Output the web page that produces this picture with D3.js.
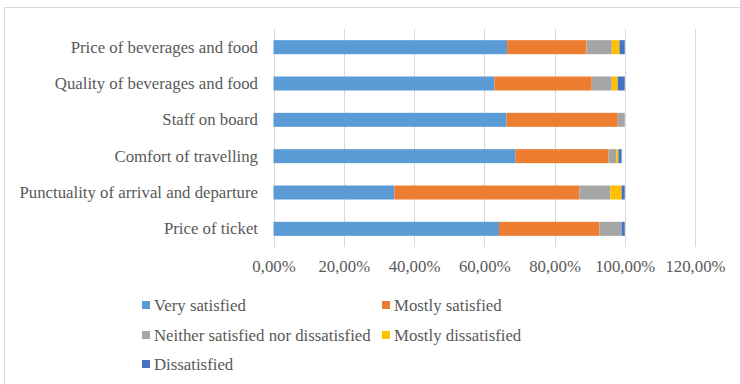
<!DOCTYPE html>
<html><head><meta charset="utf-8">
<script src="https://cdn.jsdelivr.net/npm/d3@7"></script>
<style>html,body{margin:0;padding:0;background:#fff;}svg{display:block;}
svg text{font-family:"Liberation Serif","Times New Roman",Times,serif;fill:#595959;}</style>
</head><body>
<svg id="c" width="740" height="384"></svg>
<script>
const categories = ["Price of beverages and food","Quality of beverages and food","Staff on board","Comfort of travelling","Punctuality of arrival and departure","Price of ticket"];
const seriesNames = ["Very satisfied","Mostly satisfied","Neither satisfied nor dissatisfied","Mostly dissatisfied","Dissatisfied"];
const verySatisfied      = [66.5, 62.9, 66.3, 68.9, 34.4, 64.2];
const mostlySatisfied    = [22.6, 27.7, 31.7, 26.5, 52.7, 28.6];
const neither            = [7.2, 5.7, 2.0, 2.2, 8.8, 6.3];
const mostlyDissatisfied = [2.2, 1.7, 0.0, 0.6, 3.2, 0.0];
const dissatisfied       = [1.5, 2.0, 0.0, 0.9, 0.9, 0.9];
const tickValues = [0, 20, 40, 60, 80, 100, 120];
const colors = ["#5B9BD5","#ED7D31","#A5A5A5","#FFC000","#4472C4"];

const seriesData = [verySatisfied, mostlySatisfied, neither, mostlyDissatisfied, dissatisfied];
const rows = categories.map((c,i)=>{const o={cat:c}; seriesNames.forEach((s,j)=>o[s]=seriesData[j][i]); return o;});
const stack = d3.stack().keys(seriesNames)(rows);

const svg = d3.select("#c");
const fs = "16.8px";

// chart border
svg.append("rect").attr("x",4.5).attr("y",7.5).attr("width",740).attr("height",400)
  .attr("fill","none").attr("stroke","#D9D9D9").attr("stroke-width",1);

const x = d3.scaleLinear().domain([0,120]).range([273.5, 695]);
const y = d3.scaleBand().domain(categories).range([29, 247]).paddingInner(0.615).paddingOuter(0.3075);

// gridlines
svg.append("g").selectAll("line").data(tickValues).join("line")
  .attr("x1",d=>Math.round(x(d))+0.5).attr("x2",d=>Math.round(x(d))+0.5)
  .attr("y1",29).attr("y2",247).attr("stroke","#D9D9D9").attr("stroke-width",1);

// bars
svg.append("g").selectAll("g").data(stack).join("g")
  .attr("fill",(d,i)=>colors[i])
  .selectAll("rect").data(d=>d).join("rect")
  .attr("x",d=>x(d[0])).attr("width",d=>Math.max(0,x(d[1])-x(d[0])))
  .attr("y",d=>y(d.data.cat)).attr("height",y.bandwidth());

// x axis labels
const xAxis = d3.axisBottom(x).tickValues(tickValues).tickSize(0).tickPadding(0)
  .tickFormat(d=>d3.format(".2f")(d).replace(".",",")+"%");
const gx = svg.append("g").attr("transform","translate(0,260)").call(xAxis);
gx.attr("font-family",null).attr("font-size",null);
gx.select(".domain").remove();
gx.selectAll("text").style("font-size",fs);

// y axis labels
const yAxis = d3.axisLeft(y).tickSize(0).tickPadding(0);
const gy = svg.append("g").attr("transform","translate(258,0)").call(yAxis);
gy.attr("font-family",null).attr("font-size",null);
gy.select(".domain").remove();
gy.selectAll("text").style("font-size",fs);

// legend
const legendPos = [[142,305],[382,305],[142,335],[382,335],[142,364]];
const lg = svg.append("g").selectAll("g").data(seriesNames).join("g")
  .attr("transform",(d,i)=>`translate(${legendPos[i][0]},${legendPos[i][1]})`);
lg.append("rect").attr("x",0).attr("y",-4).attr("width",8).attr("height",8).attr("fill",(d,i)=>colors[i]);
lg.append("text").attr("x",12).attr("y",0).attr("dy","0.35em").text(d=>d).style("font-size",fs);
</script>
</body></html>
